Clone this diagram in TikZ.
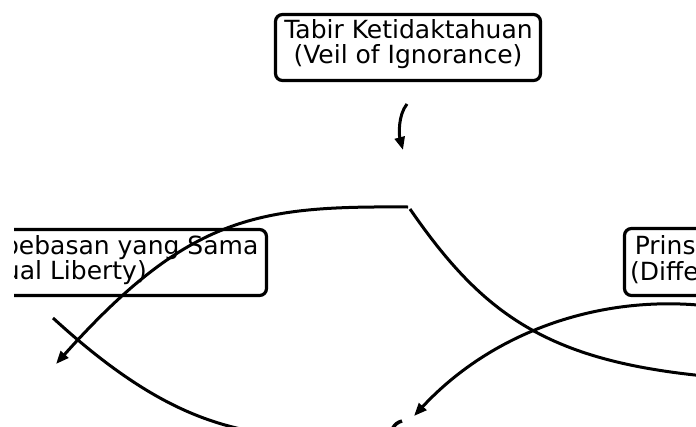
\documentclass[tikz,border=0pt]{standalone}
\usepackage{fontspec}
\setmainfont{DejaVu Sans}
\usetikzlibrary{arrows.meta}
\begin{document}
\begin{tikzpicture}[x=1pt,y=-1pt,
  box/.style={draw=black, line width=3.2pt, rounded corners=7pt, fill=white, inner sep=0pt},
  lbl/.style={inner sep=0pt, font=\fontsize{25}{30}\selectfont},
  conn/.style={line width=3pt, -{Triangle[length=13pt,width=10pt]}},
  plainconn/.style={line width=3pt},
]
\useasboundingbox (0,0) rectangle (696,426);
\clip (14,0) rectangle (696,426);

% boxes
\node[box, minimum width=265pt, minimum height=66pt] (veil) at (408,47.5) {};
\node[lbl, anchor=base] (veilA) at (408.5,38.5) {Tabir Ketidaktahuan};
\node[lbl, anchor=base] (veilB) at (408,63.5) {(Veil of Ignorance)};

\node[box, minimum width=306.5pt, minimum height=66pt] (lib) at (113.25,262.5) {};
\node[lbl, anchor=base east] (libA) at (258.5,254) {Kebebasan yang Sama};
\node[lbl, anchor=base east] (libB) at (147,279.5) {(Equal Liberty)};

\node[box, minimum width=285.5pt, minimum height=67pt] (diff) at (767.25,262) {};
\node[lbl, anchor=base west] (diffA) at (634.6,254.5) {Prinsip Perbedaan};
\node[lbl, anchor=base west] (diffB) at (630,280) {(Difference Principle)};

% connector end points
\coordinate (vS) at (407,104);
\coordinate (vE) at (403,150);
\coordinate (aS) at (408,207);
\coordinate (aE) at (56,364);
\coordinate (bS) at (53,318);
\coordinate (bE) at (320,440);
\coordinate (cS) at (410,209);
\coordinate (cE) at (760,380);
\coordinate (dS) at (789.7,325.1);
\coordinate (dE) at (414,416);
\coordinate (eS) at (402,421);
\coordinate (eE) at (388,445);

% connectors
\draw[conn] (vS) .. controls (398,115) and (399,135) .. (vE);
\draw[conn] (aS) .. controls (260,206) and (190,214) .. (aE);
\draw[plainconn] (bS) .. controls (173,428) and (240,432) .. (bE);
\draw[plainconn] (cS) .. controls (490,325) and (560,370) .. (cE);
\draw[conn] (dS) .. controls (657.8,277.1) and (509.8,312.7) .. (dE);
\draw[line width=3.5pt] (eS) .. controls (394,423) and (390,430) .. (eE);
\end{tikzpicture}
\end{document}
